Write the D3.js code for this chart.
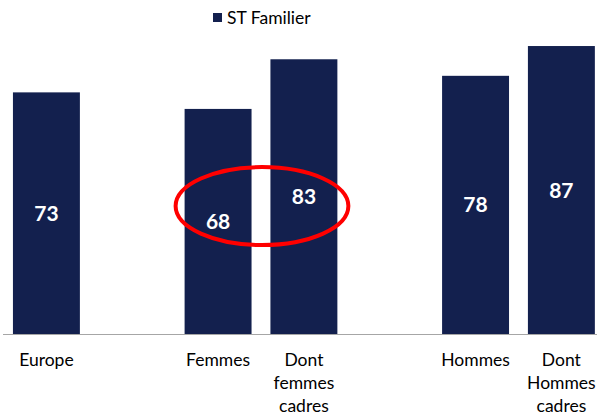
<!DOCTYPE html>
<html><head><meta charset="utf-8">
<script src="https://cdn.jsdelivr.net/npm/d3@7"></script>
<style>body{margin:0;background:#fff}svg{display:block}</style>
</head><body>
<script>
const categories = ["Europe", "Femmes", "Dont femmes cadres", "Hommes", "Dont Hommes cadres"];
const tickLabels = [["Europe"], ["Femmes"], ["Dont", "femmes", "cadres"], ["Hommes"], ["Dont", "Hommes", "cadres"]];
const values = [73, 68, 83, 78, 87];
const slots = ["Europe", "gap1", "Femmes", "Dont femmes cadres", "gap2", "Hommes", "Dont Hommes cadres"];
const seriesName = "ST Familier";
const highlighted = ["Femmes", "Dont femmes cadres"];

const W = 597, H = 416;
const color = "#13204e";
const font = "Lato, 'Open Sans', sans-serif";
const svg = d3.select("body").append("svg").attr("width", W).attr("height", H);

const x = d3.scaleBand().domain(slots).range([3.5, 604.3]).paddingInner(0.22).paddingOuter(0.11);
const y = d3.scaleLinear().domain([0, 100]).range([334, 3]);

// bars
svg.selectAll("rect.bar").data(categories).join("rect")
  .attr("class", "bar")
  .attr("x", d => x(d)).attr("width", x.bandwidth())
  .attr("y", (d, i) => y(values[i])).attr("height", (d, i) => y(0) - y(values[i]))
  .attr("fill", color);

// baseline
svg.append("line").attr("x1", 3).attr("x2", W).attr("y1", y(0) + 0.5).attr("y2", y(0) + 0.5)
  .attr("stroke", "#a6a6a6").attr("stroke-width", 1.2);

// value labels
svg.selectAll("text.val").data(categories).join("text")
  .attr("class", "val")
  .attr("x", d => x(d) + x.bandwidth() / 2)
  .attr("y", (d, i) => (y(values[i]) + y(0)) / 2)
  .attr("dy", "0.36em")
  .attr("text-anchor", "middle")
  .attr("fill", "#fff").attr("font-family", font).attr("font-weight", "bold").attr("font-size", 21)
  .text((d, i) => values[i]);

// category labels
const lab = svg.selectAll("text.cat").data(categories).join("text")
  .attr("class", "cat")
  .attr("text-anchor", "middle")
  .attr("font-family", font).attr("font-size", 17.5).attr("fill", "#000");
lab.each(function(d, i) {
  const t = d3.select(this);
  tickLabels[i].forEach((line, j) => {
    t.append("tspan").attr("x", x(d) + x.bandwidth() / 2).attr("y", 366 + j * 23).text(line);
  });
});

// highlight ellipse
const h0 = x(highlighted[0]), h1 = x(highlighted[1]) + x.bandwidth();
const hv = highlighted.map(c => values[categories.indexOf(c)]);
const cy = (d3.mean(hv.map(v => (y(v) + y(0)) / 2)));
svg.append("ellipse")
  .attr("cx", (h0 + h1) / 2 + 1).attr("cy", cy - 3)
  .attr("rx", (h1 - h0) / 2 + 10).attr("ry", 39)
  .attr("fill", "none").attr("stroke", "#ff0000").attr("stroke-width", 4);

// legend
svg.append("rect").attr("x", 213).attr("y", 13).attr("width", 9).attr("height", 9).attr("fill", color);
svg.append("text").attr("x", 227).attr("y", 24).attr("font-family", font).attr("font-size", 17.5)
  .attr("fill", "#000").text(seriesName);
</script>
</body></html>
